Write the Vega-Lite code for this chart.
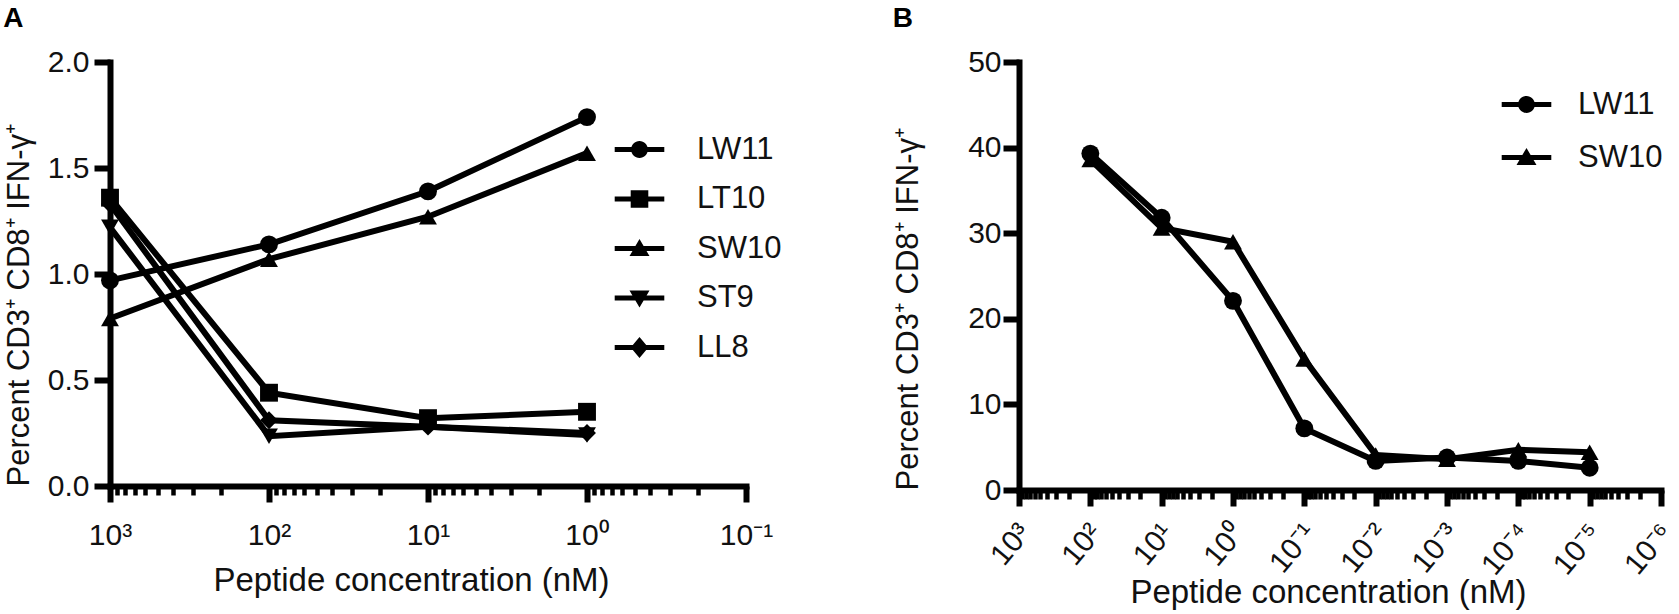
{
  "$schema": "https://vega.github.io/schema/vega-lite/v6.json",
  "background": "white",
  "padding": {"left": 3, "top": 5, "right": 0, "bottom": 0},
  "config": {
    "view": {"stroke": null},
    "font": "Liberation Sans",
    "axis": {
      "labelFont": "Liberation Sans",
      "titleFont": "Liberation Sans",
      "labelFontSize": 30,
      "titleFontSize": 31,
      "titleFontWeight": "normal",
      "labelColor": "#111111",
      "titleColor": "#111111",
      "domainColor": "black",
      "domainWidth": 6,
      "domainCap": "square",
      "tickColor": "black",
      "grid": false
    },
    "legend": {
      "labelFont": "Liberation Sans",
      "labelFontSize": 31,
      "labelColor": "#111111",
      "symbolFillColor": "black",
      "symbolStrokeWidth": 0,
      "symbolOpacity": 1,
      "symbolSize": 256
    }
  },
  "datasets": {
    "a": [
      {"series": "LW11", "conc": 1000, "value": 0.97},
      {"series": "LW11", "conc": 100, "value": 1.14},
      {"series": "LW11", "conc": 10, "value": 1.39},
      {"series": "LW11", "conc": 1, "value": 1.74},
      {"series": "LT10", "conc": 1000, "value": 1.36},
      {"series": "LT10", "conc": 100, "value": 0.44},
      {"series": "LT10", "conc": 10, "value": 0.32},
      {"series": "LT10", "conc": 1, "value": 0.35},
      {"series": "SW10", "conc": 1000, "value": 0.79},
      {"series": "SW10", "conc": 100, "value": 1.07},
      {"series": "SW10", "conc": 10, "value": 1.27},
      {"series": "SW10", "conc": 1, "value": 1.57},
      {"series": "ST9", "conc": 1000, "value": 1.22},
      {"series": "ST9", "conc": 100, "value": 0.235},
      {"series": "ST9", "conc": 10, "value": 0.28},
      {"series": "ST9", "conc": 1, "value": 0.24},
      {"series": "LL8", "conc": 1000, "value": 1.33},
      {"series": "LL8", "conc": 100, "value": 0.31},
      {"series": "LL8", "conc": 10, "value": 0.28},
      {"series": "LL8", "conc": 1, "value": 0.25}
    ],
    "b": [
      {"series": "LW11", "conc": 100, "value": 39.3},
      {"series": "LW11", "conc": 10, "value": 31.8},
      {"series": "LW11", "conc": 1, "value": 22.1},
      {"series": "LW11", "conc": 0.1, "value": 7.2},
      {"series": "LW11", "conc": 0.01, "value": 3.4},
      {"series": "LW11", "conc": 0.001, "value": 3.8},
      {"series": "LW11", "conc": 0.0001, "value": 3.4},
      {"series": "LW11", "conc": 0.00001, "value": 2.6},
      {"series": "SW10", "conc": 100, "value": 38.6},
      {"series": "SW10", "conc": 10, "value": 30.6},
      {"series": "SW10", "conc": 1, "value": 29.0},
      {"series": "SW10", "conc": 0.1, "value": 15.3},
      {"series": "SW10", "conc": 0.01, "value": 4.1},
      {"series": "SW10", "conc": 0.001, "value": 3.6},
      {"series": "SW10", "conc": 0.0001, "value": 4.7},
      {"series": "SW10", "conc": 0.00001, "value": 4.4}
    ]
  },
  "resolve": {"scale": {"shape": "independent"}, "legend": {"shape": "independent"}},
  "spacing": 110,
  "hconcat": [
    {
      "title": {"text": "A", "anchor": "start", "frame": "bounds", "fontSize": 28, "fontWeight": "bold", "font": "Liberation Sans", "color": "black", "offset": 14},
      "width": 636,
      "height": 424,
      "data": {"name": "a"},
      "encoding": {
        "x": {
          "field": "conc",
          "type": "quantitative",
          "title": "Peptide concentration (nM)",
          "scale": {"type": "log", "domain": [0.1, 1000], "reverse": true, "nice": false},
          "axis": {
            "values": [1000, 900, 800, 700, 600, 500, 400, 300, 200, 100, 90, 80, 70, 60, 50, 40, 30, 20, 10, 9, 8, 7, 6, 5, 4, 3, 2, 1, 0.9, 0.8, 0.7, 0.6, 0.5, 0.4, 0.3, 0.2, 0.1],
            "labelExpr": "abs(log(datum.value)/LN10 - round(log(datum.value)/LN10)) > 0.01 ? '' : ['10⁻⁶','10⁻⁵','10⁻⁴','10⁻³','10⁻²','10⁻¹','10⁰','10¹','10²','10³'][round(log(datum.value)/LN10) + 6]",
            "labelOverlap": false,
            "labelFlush": false,
            "labelPadding": 18,
            "titlePadding": 14,
            "titleFontSize": 33,
            "titleX": 301,
            "tickSize": {"condition": {"test": "abs(log(datum.value)/LN10 - round(log(datum.value)/LN10)) < 0.01", "value": 16}, "value": 9},
            "tickWidth": {"condition": {"test": "abs(log(datum.value)/LN10 - round(log(datum.value)/LN10)) < 0.01", "value": 6}, "value": 4.5}
          }
        },
        "y": {
          "field": "value",
          "type": "quantitative",
          "title": "Percent CD3⁺ CD8⁺ IFN-γ⁺",
          "scale": {"domain": [0, 2], "nice": false},
          "axis": {"values": [0, 0.5, 1, 1.5, 2], "format": ".1f", "tickSize": 16, "tickWidth": 6, "labelPadding": 5, "titlePadding": 12, "titleAnchor": "start"}
        }
      },
      "layer": [
        {
          "mark": {"type": "line", "color": "black", "strokeWidth": 6},
          "encoding": {"detail": {"field": "series"}}
        },
        {
          "mark": {"type": "point", "filled": true, "color": "black", "opacity": 1, "size": 320},
          "encoding": {
            "shape": {
              "field": "series",
              "type": "nominal",
              "scale": {"domain": ["LW11", "LT10", "SW10", "ST9", "LL8"], "range": ["circle", "square", "triangle-up", "triangle-down", "diamond"]},
              "legend": null
            }
          }
        },
        {
          "mark": {"type": "point", "filled": true, "color": "black", "opacity": 1, "size": 0},
          "encoding": {
            "shape": {
              "field": "series",
              "type": "nominal",
              "scale": {
                "domain": ["LW11", "LT10", "SW10", "ST9", "LL8"],
                "range": [
                  "M-3.1,-0.32H3.1V0.32H-3.1ZM-1.05,0A1.05,1.05,0,1,1,1.05,0A1.05,1.05,0,1,1,-1.05,0Z",
                  "M-3.1,-0.32H3.1V0.32H-3.1ZM-1.1,-1.1H1.1V1.1H-1.1Z",
                  "M-3.1,-0.32H3.1V0.32H-3.1ZM0,-1.2L1.25,0.95L-1.25,0.95Z",
                  "M-3.1,-0.32H3.1V0.32H-3.1ZM-1.25,-0.95L1.25,-0.95L0,1.2Z",
                  "M-3.1,-0.32H3.1V0.32H-3.1ZM0,-1.3L1.1,0L0,1.3L-1.1,0Z"
                ]
              },
              "legend": {
                "title": null,
                "orient": "none",
                "legendX": 514,
                "legendY": 72,
                "padding": 0,
                "symbolSize": 256,
                "labelOffset": 42,
                "rowPadding": 17.5
              }
            }
          }
        }
      ],
      "resolve": {"scale": {"shape": "independent"}, "legend": {"shape": "independent"}}
    },
    {
      "title": {"text": "B", "anchor": "start", "frame": "bounds", "fontSize": 28, "fontWeight": "bold", "font": "Liberation Sans", "color": "black", "offset": 14},
      "width": 642,
      "height": 428,
      "data": {"name": "b"},
      "encoding": {
        "x": {
          "field": "conc",
          "type": "quantitative",
          "title": "Peptide concentration (nM)",
          "scale": {"type": "log", "domain": [0.000001, 1000], "reverse": true, "nice": false},
          "axis": {
            "values": [1000, 900, 800, 700, 600, 500, 400, 300, 200, 100, 90, 80, 70, 60, 50, 40, 30, 20, 10, 9, 8, 7, 6, 5, 4, 3, 2, 1, 0.9, 0.8, 0.7, 0.6, 0.5, 0.4, 0.3, 0.2, 0.1, 0.09, 0.08, 0.07, 0.06, 0.05, 0.04, 0.03, 0.02, 0.01, 0.009, 0.008, 0.007, 0.006, 0.005, 0.004, 0.003, 0.002, 0.001, 0.0009, 0.0008, 0.0007, 0.0006, 0.0005, 0.0004, 0.0003, 0.0002, 0.0001, 0.00009, 0.00008, 0.00007, 0.00006, 0.00005, 0.00004, 0.00003, 0.00002, 0.00001, 0.000009, 0.000008, 0.000007, 0.000006, 0.000005, 0.000004, 0.000003, 0.000002, 0.000001],
            "labelExpr": "abs(log(datum.value)/LN10 - round(log(datum.value)/LN10)) > 0.01 ? '' : ['10⁻⁶','10⁻⁵','10⁻⁴','10⁻³','10⁻²','10⁻¹','10⁰','10¹','10²','10³'][round(log(datum.value)/LN10) + 6]",
            "labelOverlap": false,
            "labelFlush": false,
            "labelAngle": -50,
            "labelAlign": "right",
            "labelBaseline": "top",
            "labelPadding": 12,
            "labelOffset": -6,
            "titlePadding": -4,
            "titleFontSize": 33,
            "titleX": 309,
            "tickSize": {"condition": {"test": "abs(log(datum.value)/LN10 - round(log(datum.value)/LN10)) < 0.01", "value": 16}, "value": 9},
            "tickWidth": {"condition": {"test": "abs(log(datum.value)/LN10 - round(log(datum.value)/LN10)) < 0.01", "value": 6}, "value": 4.5}
          }
        },
        "y": {
          "field": "value",
          "type": "quantitative",
          "title": "Percent CD3⁺ CD8⁺ IFN-γ⁺",
          "scale": {"domain": [0, 50], "nice": false},
          "axis": {"values": [0, 10, 20, 30, 40, 50], "tickSize": 16, "tickWidth": 6, "labelPadding": 2, "titlePadding": 43, "titleAnchor": "start"}
        }
      },
      "layer": [
        {
          "mark": {"type": "line", "color": "black", "strokeWidth": 6},
          "encoding": {"detail": {"field": "series"}}
        },
        {
          "mark": {"type": "point", "filled": true, "color": "black", "opacity": 1, "size": 320},
          "encoding": {
            "shape": {
              "field": "series",
              "type": "nominal",
              "scale": {"domain": ["LW11", "SW10"], "range": ["circle", "triangle-up"]},
              "legend": null
            }
          }
        },
        {
          "mark": {"type": "point", "filled": true, "color": "black", "opacity": 1, "size": 0},
          "encoding": {
            "shape": {
              "field": "series",
              "type": "nominal",
              "scale": {
                "domain": ["LW11", "SW10"],
                "range": [
                  "M-3.1,-0.32H3.1V0.32H-3.1ZM-1.05,0A1.05,1.05,0,1,1,1.05,0A1.05,1.05,0,1,1,-1.05,0Z",
                  "M-3.1,-0.32H3.1V0.32H-3.1ZM0,-1.2L1.25,0.95L-1.25,0.95Z"
                ]
              },
              "legend": {
                "title": null,
                "orient": "none",
                "legendX": 492,
                "legendY": 27,
                "padding": 0,
                "symbolSize": 256,
                "labelOffset": 36,
                "rowPadding": 21
              }
            }
          }
        }
      ],
      "resolve": {"scale": {"shape": "independent"}, "legend": {"shape": "independent"}}
    }
  ]
}
